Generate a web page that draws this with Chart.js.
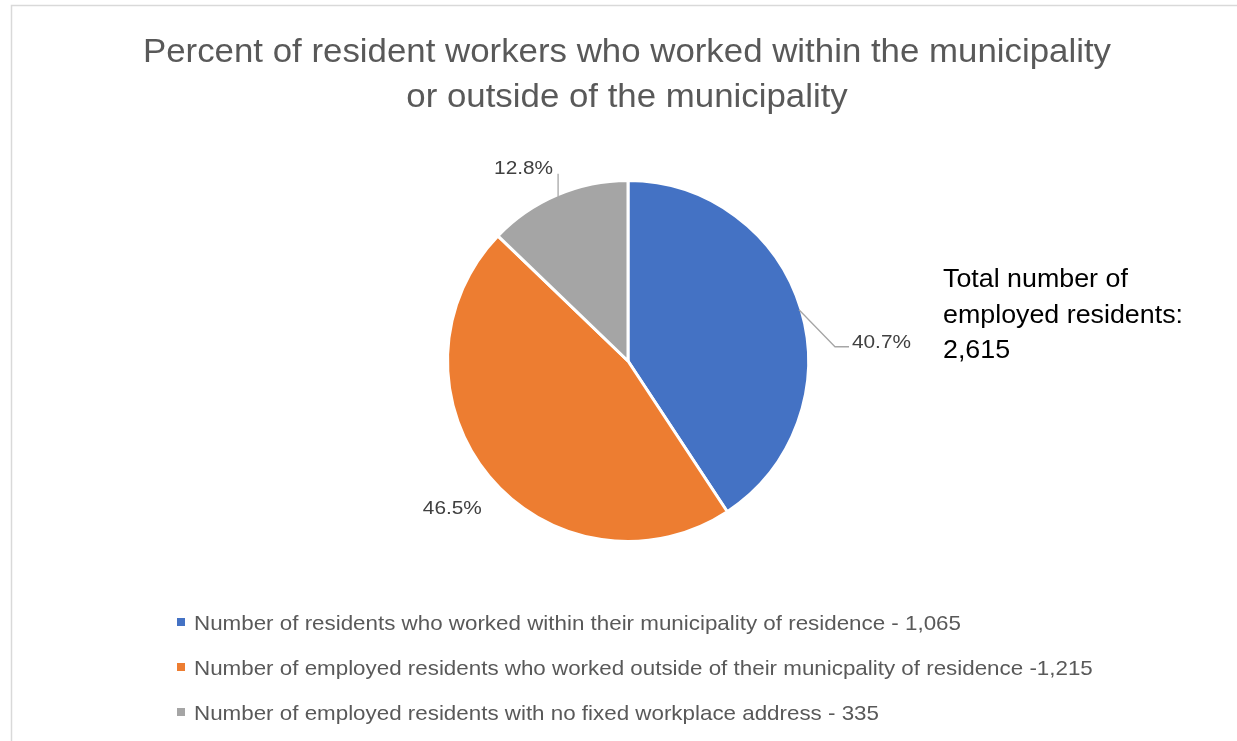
<!DOCTYPE html>
<html>
<head>
<meta charset="utf-8">
<script src="https://cdn.jsdelivr.net/npm/chart.js@4/dist/chart.umd.min.js"></script>
<style>
  html, body { margin: 0; padding: 0; background: #fff; }
  canvas { display: block; }
</style>
</head>
<body>
<canvas id="chart" width="1237" height="741"></canvas>
<script>
// data
const categories = [
  'Number of residents who worked within their municipality of residence - 1,065',
  'Number of employed residents who worked outside of their municpality of residence -1,215',
  'Number of employed residents with no fixed workplace address - 335'
];
const residentCounts = [1065, 1215, 335];
const sliceColors = ['#4472C4', '#ED7D31', '#A5A5A5'];
const titleLines = [
  'Percent of resident workers who worked within the municipality',
  'or outside of the municipality'
];
const totalLabelLines = ['Total number of', 'employed residents:'];

const FONT = '"Liberation Sans", Arial, sans-serif';
const total = residentCounts.reduce((a, b) => a + b, 0);

// draw text squeezed horizontally so Arial looks like the narrower Calibri
function squeeze(ctx, size, sample, targetWidth) {
  ctx.font = size + 'px ' + FONT;
  return targetWidth / ctx.measureText(sample).width;
}
function drawText(ctx, text, x, y, size, color, sx, align) {
  ctx.save();
  ctx.font = size + 'px ' + FONT;
  ctx.fillStyle = color;
  ctx.textBaseline = 'alphabetic';
  ctx.textAlign = align || 'left';
  ctx.translate(x, y);
  ctx.scale(sx, 1);
  ctx.fillText(text, 0, 0);
  ctx.restore();
}

const decorations = {
  id: 'decorations',
  beforeDraw(chart) {
    const ctx = chart.ctx;
    ctx.save();
    ctx.strokeStyle = '#d9d9d9';
    ctx.lineWidth = 1.5;
    ctx.strokeRect(11.5, 5.5, 1400, 900);
    ctx.restore();
  },
  afterDraw(chart) {
    const ctx = chart.ctx;

    // title
    const tsx = squeeze(ctx, 33, titleLines[0], 968);
    titleLines.forEach((line, i) => {
      drawText(ctx, line, 627, 62 + i * 45, 33, '#595959', tsx, 'center');
    });

    // total annotation
    const asx = squeeze(ctx, 26, totalLabelLines[1], 240);
    const annLines = totalLabelLines.concat([total.toLocaleString('en-US')]);
    annLines.forEach((line, i) => {
      drawText(ctx, line, 943, 287 + i * 35.5, 26, '#000000', asx);
    });

    // legend
    const lsx = squeeze(ctx, 21, categories[0], 767);
    categories.forEach((label, i) => {
      const base = 630 + i * 45;
      ctx.fillStyle = sliceColors[i];
      ctx.fillRect(177, base - 12, 8, 8);
      drawText(ctx, label, 194, base, 21, '#595959', lsx);
    });
  },
  afterDatasetsDraw(chart) {
    const ctx = chart.ctx;
    const arcs = chart.getDatasetMeta(0).data;
    const psx = squeeze(ctx, 18, '40.7%', 59);
    ctx.save();
    ctx.strokeStyle = '#A6A6A6';
    ctx.lineWidth = 1.3;
    arcs.forEach((arc, i) => {
      const { x, y, startAngle, endAngle, outerRadius } = arc.getProps(['x', 'y', 'startAngle', 'endAngle', 'outerRadius'], true);
      const mid = (startAngle + endAngle) / 2;
      const ex = x + Math.cos(mid) * (outerRadius - 2);
      const ey = y + Math.sin(mid) * (outerRadius - 2);
      const pct = (residentCounts[i] / total * 100).toFixed(1) + '%';
      if (i === 0) {
        ctx.beginPath();
        ctx.moveTo(ex, ey);
        ctx.lineTo(ex + 36, ey + 37);
        ctx.lineTo(ex + 50, ey + 37);
        ctx.stroke();
        drawText(ctx, pct, ex + 53, ey + 38, 18, '#404040', psx);
      } else if (i === 1) {
        const lx = x + Math.cos(mid) * (outerRadius + 48);
        const ly = y + Math.sin(mid) * (outerRadius + 48);
        drawText(ctx, pct, lx, ly + 7, 18, '#404040', psx, 'center');
      } else {
        ctx.beginPath();
        ctx.moveTo(ex, ey);
        ctx.lineTo(ex, ey - 23);
        ctx.stroke();
        drawText(ctx, pct, ex - 5, ey - 23, 18, '#404040', psx, 'right');
      }
    });
    ctx.restore();
  }
};

new Chart(document.getElementById('chart').getContext('2d'), {
  type: 'pie',
  data: {
    labels: categories,
    datasets: [{
      data: residentCounts,
      backgroundColor: sliceColors,
      borderColor: '#ffffff',
      borderWidth: 3
    }]
  },
  options: {
    responsive: false,
    animation: false,
    layout: {
      padding: { top: 179, bottom: 198, left: 400, right: 381 }
    },
    plugins: {
      legend: { display: false },
      title: { display: false },
      tooltip: { enabled: false }
    }
  },
  plugins: [decorations]
});
</script>
</body>
</html>
